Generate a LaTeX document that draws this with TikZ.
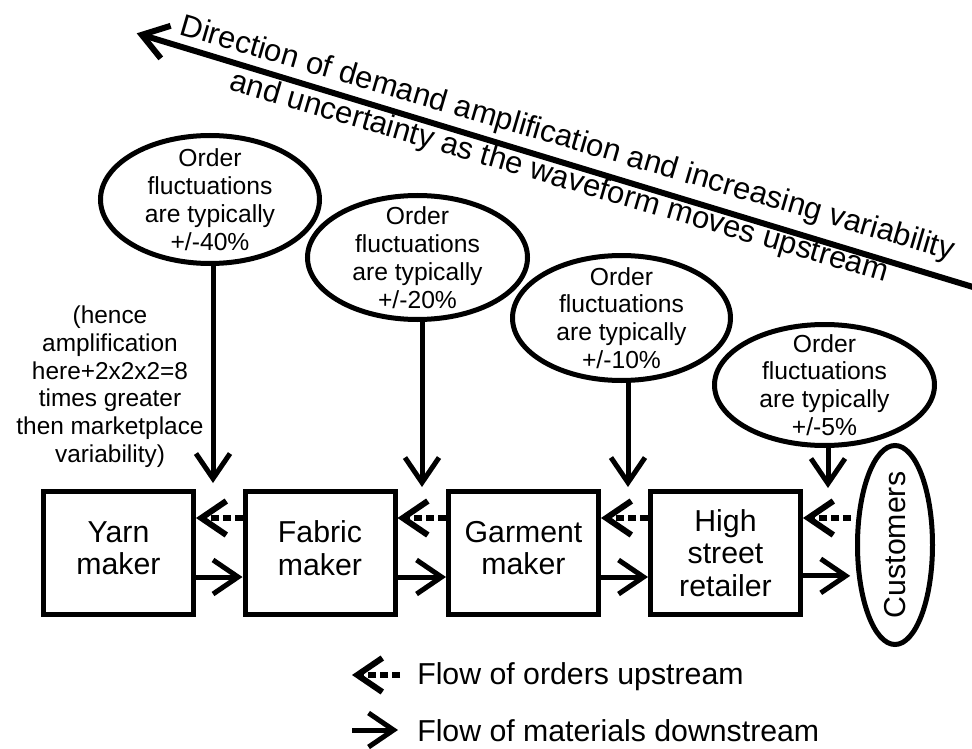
\documentclass[tikz,border=0pt]{standalone}
\usepackage{fontspec}
\setmainfont{Liberation Sans}
\usetikzlibrary{arrows.meta,calc,shapes.geometric}
\begin{document}
\begin{tikzpicture}[x=0.75pt,y=-0.75pt,
  mybarb/.tip={Straight Barb[length=18.75pt,width=25.5pt,line cap=butt,line join=miter]},
  box/.style={draw,line width=3.75pt,minimum width=112.5pt,minimum height=92.25pt,inner sep=0pt},
  oval/.style={draw,ellipse,line width=3.75pt,inner sep=0pt},
  bigtxt/.style={inner sep=0pt,align=center,font=\fontsize{22.7}{24.4}\selectfont},
  titletxt/.style={inner sep=0pt,align=center,font=\fontsize{23.2}{24.4}\selectfont},
  smalltxt/.style={inner sep=0pt,align=center,font=\fontsize{18.5}{20.85}\selectfont},
  notetxt/.style={inner sep=0pt,align=center,font=\fontsize{18.3}{20.8}\selectfont},
  matflow/.style={line width=3.75pt,-mybarb},
  ordflow/.style={line width=4.5pt,dash pattern=on 6pt off 3pt,-mybarb},
  demand/.style={line width=3.75pt,-mybarb},
  dirarrow/.style={line width=4.5pt,-mybarb}
]
\clip (0,0) rectangle (972,749);
\fill[white] (0,0) rectangle (972,749);

% boxes
\node[box] (yarn) at (118.5,553) {};
\node[box] (fabric) at (320,553) {};
\node[box] (garment) at (523.5,553) {};
\node[box] (retail) at (725.5,553) {};
\node[oval,minimum width=56.25pt,minimum height=149.25pt] (cust) at (895,545) {};

\node[bigtxt] (yarnT) at ($(yarn)+(0,-5)$) {Yarn\\maker};
\node[bigtxt] (fabricT) at ($(fabric)+(0,-5)$) {Fabric\\maker};
\node[bigtxt] (garmentT) at ($(garment)+(0,-5)$) {Garment\\maker};
\node[bigtxt] (retailT) at (retail) {High\\street\\retailer};
\node[bigtxt,rotate=90] (custT) at (cust) {Customers};

% ellipses
\node[oval,minimum width=164.25pt,minimum height=96pt] (e1) at (210,199.5) {};
\node[oval,minimum width=165pt,minimum height=93pt] (e2) at (417.5,257.5) {};
\node[oval,minimum width=163.5pt,minimum height=93.75pt] (e3) at (621.5,318) {};
\node[oval,minimum width=165pt,minimum height=90.75pt] (e4) at (824.5,385) {};

\node[smalltxt] (e1T) at (e1) {Order\\fluctuations\\are typically\\+/-40\%};
\node[smalltxt] (e2T) at (e2) {Order\\fluctuations\\are typically\\+/-20\%};
\node[smalltxt] (e3T) at (e3) {Order\\fluctuations\\are typically\\+/-10\%};
\node[smalltxt] (e4T) at (e4) {Order\\fluctuations\\are typically\\+/-5\%};

% vertical arrows
\coordinate (t1) at (213,483);
\coordinate (t2) at (422,487);
\coordinate (t3) at (628,487);
\coordinate (t4) at (828,488);
\draw[demand] (e1.south -| t1) -- (t1);
\draw[demand] (e2.south -| t2) -- (t2);
\draw[demand] (e3.south -| t3) -- (t3);
\draw[demand] (e4.south -| t4) -- (t4);

% flows between boxes
\draw[ordflow] ($(fabric.west)+(0,-35)$) -- ($(yarn.east)+(0,-35)$);
\draw[ordflow] ($(garment.west)+(0,-35)$) -- ($(fabric.east)+(0,-35)$);
\draw[ordflow] ($(retail.west)+(0,-35)$) -- ($(garment.east)+(0,-35)$);
\draw[ordflow,shorten <=4pt] (cust.145) -- (retail.east |- cust.145);

\draw[matflow] ($(yarn.east)+(0,24)$) -- ($(fabric.west)+(0,24)$);
\draw[matflow] ($(fabric.east)+(0,24)$) -- ($(garment.west)+(0,24)$);
\draw[matflow] ($(garment.east)+(0,24)$) -- ($(retail.west)+(0,24)$);
\draw[matflow,shorten >=5pt] (retail.east |- cust.219) -- (cust.219);

% note
\node[notetxt] (note) at (110,386.7) {(hence\\amplification\\here+2x2x2=8\\times greater\\then marketplace\\variability)};

% direction arrow and title
\coordinate (dirEnd) at (1000,295.2);
\coordinate (dirTip) at (136.7,33.3);
\draw[dirarrow] (dirEnd) -- (dirTip);
\node[titletxt,anchor=base,rotate=-16.3] (dir1) at (565,147.3) {Direction of demand amplification and increasing variability};
\node[titletxt,anchor=base,rotate=-16.3] (dir2) at (556.5,186) {and uncertainty as the waveform moves upstream};

% legend
\coordinate (lo1) at (400,675);
\coordinate (lo2) at (352,675);
\draw[ordflow] (lo1) -- (lo2);
\node[bigtxt,anchor=base west] (legO) at (417,684) {Flow of orders upstream};
\coordinate (lm1) at (352,730);
\coordinate (lm2) at (398,730);
\draw[matflow] (lm1) -- (lm2);
\node[bigtxt,anchor=base west] (legM) at (417,741) {Flow of materials downstream};
\end{tikzpicture}
\end{document}
